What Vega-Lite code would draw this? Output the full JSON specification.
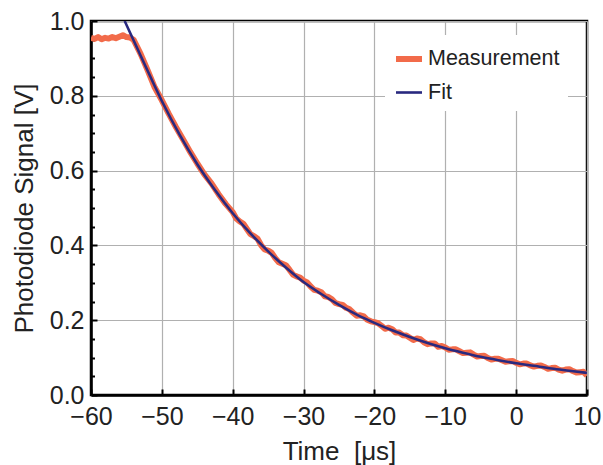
{
  "$schema": "https://vega.github.io/schema/vega-lite/v6.json",
  "width": 496,
  "height": 374,
  "autosize": {"type": "none"},
  "padding": {"left": 91, "top": 21, "right": 16, "bottom": 70},
  "background": "white",
  "datasets": {
    "measurement": [
      {"t": -60, "v": 0.955, "series": "Measurement"},
      {"t": -59.5, "v": 0.952, "series": "Measurement"},
      {"t": -59, "v": 0.957, "series": "Measurement"},
      {"t": -58.5, "v": 0.951, "series": "Measurement"},
      {"t": -58, "v": 0.955, "series": "Measurement"},
      {"t": -57.5, "v": 0.953, "series": "Measurement"},
      {"t": -57, "v": 0.957, "series": "Measurement"},
      {"t": -56.5, "v": 0.954, "series": "Measurement"},
      {"t": -56, "v": 0.958, "series": "Measurement"},
      {"t": -55.5, "v": 0.962, "series": "Measurement"},
      {"t": -55, "v": 0.957, "series": "Measurement"},
      {"t": -54.5, "v": 0.956, "series": "Measurement"},
      {"t": -54, "v": 0.950, "series": "Measurement"},
      {"t": -53, "v": 0.912, "series": "Measurement"},
      {"t": -52, "v": 0.868, "series": "Measurement"},
      {"t": -51, "v": 0.822, "series": "Measurement"},
      {"t": -50, "v": 0.788, "series": "Measurement"},
      {"t": -49, "v": 0.751, "series": "Measurement"},
      {"t": -48, "v": 0.716, "series": "Measurement"},
      {"t": -47, "v": 0.683, "series": "Measurement"},
      {"t": -46, "v": 0.650, "series": "Measurement"},
      {"t": -45, "v": 0.619, "series": "Measurement"},
      {"t": -44, "v": 0.590, "series": "Measurement"},
      {"t": -43, "v": 0.566, "series": "Measurement"},
      {"t": -42, "v": 0.537, "series": "Measurement"},
      {"t": -41, "v": 0.511, "series": "Measurement"},
      {"t": -40, "v": 0.489, "series": "Measurement"},
      {"t": -39.5, "v": 0.472, "series": "Measurement"},
      {"t": -39, "v": 0.464, "series": "Measurement"},
      {"t": -38.5, "v": 0.458, "series": "Measurement"},
      {"t": -38, "v": 0.444, "series": "Measurement"},
      {"t": -37.5, "v": 0.430, "series": "Measurement"},
      {"t": -37, "v": 0.425, "series": "Measurement"},
      {"t": -36.5, "v": 0.418, "series": "Measurement"},
      {"t": -36, "v": 0.401, "series": "Measurement"},
      {"t": -35.5, "v": 0.389, "series": "Measurement"},
      {"t": -35, "v": 0.386, "series": "Measurement"},
      {"t": -34.5, "v": 0.380, "series": "Measurement"},
      {"t": -34, "v": 0.366, "series": "Measurement"},
      {"t": -33.5, "v": 0.355, "series": "Measurement"},
      {"t": -33, "v": 0.351, "series": "Measurement"},
      {"t": -32.5, "v": 0.347, "series": "Measurement"},
      {"t": -32, "v": 0.335, "series": "Measurement"},
      {"t": -31.5, "v": 0.322, "series": "Measurement"},
      {"t": -31, "v": 0.317, "series": "Measurement"},
      {"t": -30.5, "v": 0.314, "series": "Measurement"},
      {"t": -30, "v": 0.306, "series": "Measurement"},
      {"t": -29.5, "v": 0.301, "series": "Measurement"},
      {"t": -29, "v": 0.290, "series": "Measurement"},
      {"t": -28.5, "v": 0.281, "series": "Measurement"},
      {"t": -28, "v": 0.279, "series": "Measurement"},
      {"t": -27.5, "v": 0.275, "series": "Measurement"},
      {"t": -27, "v": 0.264, "series": "Measurement"},
      {"t": -26.5, "v": 0.262, "series": "Measurement"},
      {"t": -26, "v": 0.256, "series": "Measurement"},
      {"t": -25.5, "v": 0.246, "series": "Measurement"},
      {"t": -25, "v": 0.243, "series": "Measurement"},
      {"t": -24.5, "v": 0.241, "series": "Measurement"},
      {"t": -24, "v": 0.233, "series": "Measurement"},
      {"t": -23.5, "v": 0.229, "series": "Measurement"},
      {"t": -23, "v": 0.220, "series": "Measurement"},
      {"t": -22.5, "v": 0.212, "series": "Measurement"},
      {"t": -22, "v": 0.213, "series": "Measurement"},
      {"t": -21.5, "v": 0.210, "series": "Measurement"},
      {"t": -21, "v": 0.201, "series": "Measurement"},
      {"t": -20.5, "v": 0.197, "series": "Measurement"},
      {"t": -20, "v": 0.195, "series": "Measurement"},
      {"t": -19.5, "v": 0.192, "series": "Measurement"},
      {"t": -19, "v": 0.185, "series": "Measurement"},
      {"t": -18.5, "v": 0.177, "series": "Measurement"},
      {"t": -18, "v": 0.180, "series": "Measurement"},
      {"t": -17.5, "v": 0.176, "series": "Measurement"},
      {"t": -17, "v": 0.167, "series": "Measurement"},
      {"t": -16.5, "v": 0.167, "series": "Measurement"},
      {"t": -16, "v": 0.160, "series": "Measurement"},
      {"t": -15.5, "v": 0.159, "series": "Measurement"},
      {"t": -15, "v": 0.153, "series": "Measurement"},
      {"t": -14.5, "v": 0.147, "series": "Measurement"},
      {"t": -14, "v": 0.151, "series": "Measurement"},
      {"t": -13.5, "v": 0.149, "series": "Measurement"},
      {"t": -13, "v": 0.141, "series": "Measurement"},
      {"t": -12.5, "v": 0.136, "series": "Measurement"},
      {"t": -12, "v": 0.138, "series": "Measurement"},
      {"t": -11.5, "v": 0.138, "series": "Measurement"},
      {"t": -11, "v": 0.129, "series": "Measurement"},
      {"t": -10.5, "v": 0.131, "series": "Measurement"},
      {"t": -10, "v": 0.127, "series": "Measurement"},
      {"t": -9.5, "v": 0.121, "series": "Measurement"},
      {"t": -9, "v": 0.122, "series": "Measurement"},
      {"t": -8.5, "v": 0.122, "series": "Measurement"},
      {"t": -8, "v": 0.117, "series": "Measurement"},
      {"t": -7.5, "v": 0.112, "series": "Measurement"},
      {"t": -7, "v": 0.113, "series": "Measurement"},
      {"t": -6.5, "v": 0.114, "series": "Measurement"},
      {"t": -6, "v": 0.108, "series": "Measurement"},
      {"t": -5.5, "v": 0.103, "series": "Measurement"},
      {"t": -5, "v": 0.104, "series": "Measurement"},
      {"t": -4.5, "v": 0.105, "series": "Measurement"},
      {"t": -4, "v": 0.099, "series": "Measurement"},
      {"t": -3.5, "v": 0.095, "series": "Measurement"},
      {"t": -3, "v": 0.097, "series": "Measurement"},
      {"t": -2.5, "v": 0.097, "series": "Measurement"},
      {"t": -2, "v": 0.093, "series": "Measurement"},
      {"t": -1.5, "v": 0.089, "series": "Measurement"},
      {"t": -1, "v": 0.090, "series": "Measurement"},
      {"t": -0.5, "v": 0.091, "series": "Measurement"},
      {"t": 0, "v": 0.086, "series": "Measurement"},
      {"t": 0.5, "v": 0.082, "series": "Measurement"},
      {"t": 1, "v": 0.084, "series": "Measurement"},
      {"t": 1.5, "v": 0.084, "series": "Measurement"},
      {"t": 2, "v": 0.079, "series": "Measurement"},
      {"t": 2.5, "v": 0.076, "series": "Measurement"},
      {"t": 3, "v": 0.078, "series": "Measurement"},
      {"t": 3.5, "v": 0.079, "series": "Measurement"},
      {"t": 4, "v": 0.075, "series": "Measurement"},
      {"t": 4.5, "v": 0.070, "series": "Measurement"},
      {"t": 5, "v": 0.072, "series": "Measurement"},
      {"t": 5.5, "v": 0.073, "series": "Measurement"},
      {"t": 6, "v": 0.068, "series": "Measurement"},
      {"t": 6.5, "v": 0.065, "series": "Measurement"},
      {"t": 7, "v": 0.068, "series": "Measurement"},
      {"t": 7.5, "v": 0.069, "series": "Measurement"},
      {"t": 8, "v": 0.064, "series": "Measurement"},
      {"t": 8.5, "v": 0.060, "series": "Measurement"},
      {"t": 9, "v": 0.061, "series": "Measurement"},
      {"t": 9.5, "v": 0.062, "series": "Measurement"},
      {"t": 10, "v": 0.052, "series": "Measurement"}
    ],
    "fit": [
      {"t": -55.25, "v": 1.0, "series": "Fit"},
      {"t": -52.5, "v": 0.887, "series": "Fit"},
      {"t": -50, "v": 0.786, "series": "Fit"},
      {"t": -47.5, "v": 0.696, "series": "Fit"},
      {"t": -45, "v": 0.617, "series": "Fit"},
      {"t": -42.5, "v": 0.548, "series": "Fit"},
      {"t": -40, "v": 0.486, "series": "Fit"},
      {"t": -37.5, "v": 0.432, "series": "Fit"},
      {"t": -35, "v": 0.384, "series": "Fit"},
      {"t": -32.5, "v": 0.341, "series": "Fit"},
      {"t": -30, "v": 0.302, "series": "Fit"},
      {"t": -27.5, "v": 0.270, "series": "Fit"},
      {"t": -25, "v": 0.241, "series": "Fit"},
      {"t": -22.5, "v": 0.215, "series": "Fit"},
      {"t": -20, "v": 0.193, "series": "Fit"},
      {"t": -17.5, "v": 0.173, "series": "Fit"},
      {"t": -15, "v": 0.155, "series": "Fit"},
      {"t": -12.5, "v": 0.139, "series": "Fit"},
      {"t": -10, "v": 0.125, "series": "Fit"},
      {"t": -7.5, "v": 0.113, "series": "Fit"},
      {"t": -5, "v": 0.102, "series": "Fit"},
      {"t": -2.5, "v": 0.093, "series": "Fit"},
      {"t": 0, "v": 0.085, "series": "Fit"},
      {"t": 2.5, "v": 0.078, "series": "Fit"},
      {"t": 5, "v": 0.071, "series": "Fit"},
      {"t": 7.5, "v": 0.065, "series": "Fit"},
      {"t": 10, "v": 0.059, "series": "Fit"}
    ]
  },
  "layer": [
    {
      "data": {"name": "measurement"},
      "mark": {"type": "line", "clip": true, "strokeCap": "butt", "strokeJoin": "round"},
      "encoding": {
        "x": {
          "field": "t", "type": "quantitative",
          "scale": {"domain": [-60, 10], "nice": false, "zero": false},
          "axis": {"title": "Time\u00a0\u00a0[μs]", "values": [-60, -50, -40, -30, -20, -10, 0, 10], "format": "d", "grid": true, "labelPadding": 15, "titlePadding": 9}
        },
        "y": {
          "field": "v", "type": "quantitative",
          "scale": {"domain": [0, 1], "nice": false, "zero": false},
          "axis": {"title": "Photodiode Signal [V]", "orient": "left", "values": [0, 0.2, 0.4, 0.6, 0.8, 1.0], "format": ".1f", "grid": true, "labelPadding": 13, "titlePadding": 12}
        },
        "color": {
          "field": "series", "type": "nominal",
          "scale": {"domain": ["Measurement", "Fit"], "range": ["#f26b4a", "#29297f"]},
          "legend": {"orient": "none", "legendX": 294, "legendY": 14, "fillColor": "white", "padding": 8, "symbolType": "stroke", "symbolSize": 676, "labelFontSize": 21.5, "labelFont": "Liberation Sans", "labelColor": "#222", "rowPadding": 7, "title": null, "labelOffset": 3}
        },
        "strokeWidth": {
          "field": "series", "type": "nominal",
          "scale": {"type": "ordinal", "domain": ["Measurement", "Fit"], "range": [6, 2.6]},
          "legend": {"orient": "none", "legendX": 294, "legendY": 14, "fillColor": "white", "padding": 8, "symbolType": "stroke", "symbolSize": 676, "labelFontSize": 21.5, "labelFont": "Liberation Sans", "labelColor": "#222", "rowPadding": 7, "title": null, "labelOffset": 3}
        }
      }
    },
    {
      "data": {"name": "fit"},
      "mark": {"type": "line", "clip": true, "interpolate": "monotone"},
      "encoding": {
        "x": {"field": "t", "type": "quantitative", "scale": {"domain": [-60, 10], "nice": false, "zero": false}},
        "y": {
          "field": "v", "type": "quantitative",
          "scale": {"domain": [0, 1], "nice": false, "zero": false},
          "axis": {"title": null, "orient": "left", "values": [0.05, 0.1, 0.15, 0.25, 0.3, 0.35, 0.45, 0.5, 0.55, 0.65, 0.7, 0.75, 0.85, 0.9, 0.95], "labels": false, "grid": false, "domain": false, "ticks": true, "tickSize": -3.5}
        },
        "color": {"field": "series", "type": "nominal", "scale": {"domain": ["Measurement", "Fit"], "range": ["#f26b4a", "#29297f"]}},
        "strokeWidth": {"field": "series", "type": "nominal", "scale": {"type": "ordinal", "domain": ["Measurement", "Fit"], "range": [6, 2.6]}}
      }
    }
  ],
  "resolve": {"axis": {"y": "independent"}},
  "config": {
    "view": {"stroke": "black", "strokeWidth": 2.5},
    "font": "Liberation Sans",
    "axis": {
      "labelFont": "Liberation Sans", "labelFontSize": 25, "labelColor": "#222",
      "titleFont": "Liberation Sans", "titleFontSize": 26, "titleFontWeight": "normal", "titleColor": "#222",
      "domainColor": "black", "domainWidth": 2.5,
      "tickColor": "black", "tickWidth": 2, "tickSize": -6,
      "gridColor": "#b0b0b0", "gridWidth": 1.2,
      "labelFlush": false, "labelOverlap": false
    }
  }
}
